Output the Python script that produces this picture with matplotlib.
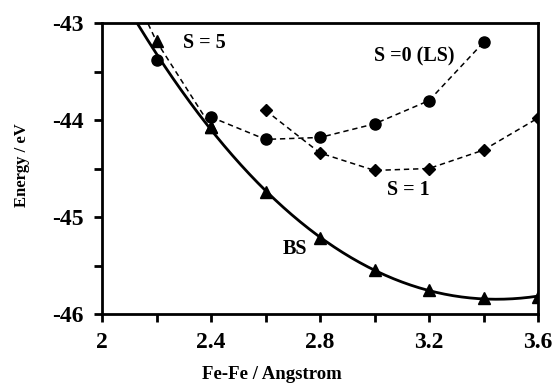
import numpy as np
import matplotlib
matplotlib.use("Agg")
import matplotlib.pyplot as plt

plt.rcParams['font.family'] = ['Liberation Serif', 'DejaVu Serif']
plt.rcParams['font.weight'] = 'bold'
plt.rcParams['axes.unicode_minus'] = False

# BS (broken symmetry), solid trend line with triangles
bs_x = [2.2, 2.4, 2.6, 2.8, 3.0, 3.2, 3.4, 3.6]
bs_y = [-43.33, -44.07, -44.74, -45.22, -45.55, -45.75, -45.84, -45.82]

# S = 5, dashed
s5_x = [2.1, 2.2, 2.4]
s5_y = [-42.6, -43.19, -44.07]

# S = 0 (LS), circles
ls_x = [2.2, 2.4, 2.6, 2.8, 3.0, 3.2, 3.4]
ls_y = [-43.38, -43.97, -44.20, -44.18, -44.04, -43.80, -43.20]

# S = 1, diamonds
s1_x = [2.6, 2.8, 3.0, 3.2, 3.4, 3.6]
s1_y = [-43.90, -44.34, -44.52, -44.50, -44.31, -43.98]

xticks = [2, 2.4, 2.8, 3.2, 3.6]
xlabels = ['2', '2.4', '2.8', '3.2', '3.6']
yticks = [-46, -45, -44, -43]

fig = plt.figure(figsize=(5.57, 3.9), dpi=100)
ax = fig.add_axes([102/557, 1-314/390, 436/557, 291/390])

dash = (0, (3.5, 2.5))
ax.plot(ls_x[1:], ls_y[1:], color='black', lw=1.1, ls=dash)
ax.plot(ls_x, ls_y, ls='none', color='black', marker='o', ms=8)
ax.plot(s1_x, s1_y, color='black', lw=1.1, ls=dash, marker='D', ms=6)
ax.plot(s5_x, s5_y, color='black', lw=1.1, ls=dash, marker='^', ms=8, markevery=[1, 2])

# trend line for BS
coef = np.polyfit(bs_x, bs_y, 3)
xf = np.linspace(2.05, 3.6, 200)
ax.plot(xf, np.polyval(coef, xf), color='black', lw=2)
ax.plot(bs_x[1:], bs_y[1:], ls='none', color='black', marker='^', ms=8)

ax.set_xlim(2, 3.6)
ax.set_ylim(-46, -43)
ax.set_xticks(xticks)
ax.set_xticklabels(xlabels)
ax.set_xticks(np.arange(2.2, 3.6, 0.4), minor=True)
ax.set_yticks(yticks)
ax.set_yticks([-45.5, -44.5, -43.5], minor=True)
ax.tick_params(which='both', direction='out', length=6, width=2, labelsize=17, pad=7)

for s in ax.spines.values():
    s.set_linewidth(2)

ax.set_xlabel('Fe-Fe / Angstrom', fontsize=13.5, fontweight='bold')
ax.xaxis.set_label_coords(0.39, -0.18)
ax.set_ylabel('Energy / eV', fontsize=12, fontweight='bold')
ax.yaxis.set_label_coords(-0.165, 0.51)

ax.text(2.297, -43.21, 'S = 5', fontsize=14.5, fontweight='bold', va='center')
ax.text(2.998, -43.35, 'S =0 (LS)', fontsize=14.5, fontweight='bold', va='center')
ax.text(3.046, -44.72, 'S = 1', fontsize=14.5, fontweight='bold', va='center')
ax.text(2.664, -45.33, 'BS', fontsize=14.5, fontweight='bold', va='center')

fig.savefig('out.png', dpi=100)
